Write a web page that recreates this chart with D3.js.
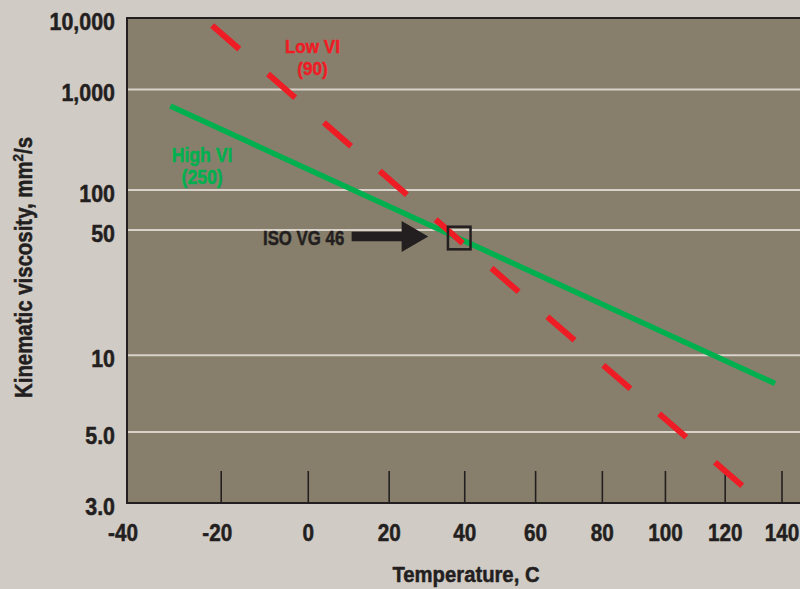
<!DOCTYPE html>
<html>
<head>
<meta charset="utf-8">
<script src="https://cdn.jsdelivr.net/npm/d3@7/dist/d3.min.js"></script>
<style>
  html, body { margin: 0; padding: 0; background: #d1cbc5; }
  svg { display: block; }
  text { font-family: "Liberation Sans", Arial, Helvetica, sans-serif; font-weight: bold; stroke-width: 0.5; stroke-linejoin: round; }
</style>
</head>
<body>
<svg id="chart" width="800" height="589"></svg>
<script>
// ---- Data ----
const yTickValues = [10000, 1000, 100, 50, 10, 5, 3];
const yTickLabels = ["10,000", "1,000", "100", "50", "10", "5.0", "3.0"];
const gridValues = [1000, 100, 50, 10, 5];
const xTickValues = [-40, -20, 0, 20, 40, 60, 80, 100, 120, 140];
const xTickLabels = ["-40", "-20", "0", "20", "40", "60", "80", "100", "120", "140"];

// High VI (250) line: temperature (C) and viscosity (mm2/s)
const highVITemps = [-31, 137.5];
const highVIVisc = [640, 7.6];
// Low VI (90) line
const lowVITemps = [-22, 127];
const lowVIVisc = [7600, 3.3];
// ISO VG 46 marker (as placed in the picture)
const isoTemp = [38.5];
const isoVisc = [44];

// ---- Layout ----
const W = 800, H = 589;
const plotLeft = 127, plotTop = 18, plotBottom = 503;
const ink = "#231f20";
const green = "#00b04f", red = "#ee1c25";

const svg = d3.select("#chart");

// squeeze text horizontally to mimic a condensed face
function condense(sel, f) {
  sel.each(function () {
    const L = this.getComputedTextLength();
    d3.select(this).attr("textLength", L * f).attr("lengthAdjust", "spacingAndGlyphs");
  });
}

// ASTM D341 viscosity-temperature chart scales
const astm = v => Math.log10(Math.log10(v + 0.7));
const yLin = d3.scaleLinear().domain([astm(3), astm(10000)]).range([plotBottom, plotTop]);
const y = v => yLin(astm(v));
const xLog = d3.scaleLog().domain([-40 + 273.15, 140 + 273.15]).range([plotLeft, 782]);
const x = t => xLog(t + 273.15);

// plot background
svg.append("rect")
  .attr("x", plotLeft).attr("y", plotTop)
  .attr("width", W + 20 - plotLeft).attr("height", plotBottom - plotTop)
  .attr("fill", "#877f6b");

// gridlines
svg.append("g").selectAll("line").data(gridValues).join("line")
  .attr("x1", plotLeft).attr("x2", W + 10)
  .attr("y1", d => y(d)).attr("y2", d => y(d))
  .attr("stroke", "#d9d2ca").attr("stroke-width", 2);

// x tick marks
svg.append("g").selectAll("line").data(xTickValues.slice(1)).join("line")
  .attr("x1", d => x(d)).attr("x2", d => x(d))
  .attr("y1", plotBottom - 32).attr("y2", plotBottom)
  .attr("stroke", ink).attr("stroke-width", 1.6);

// border (left, top, bottom)
svg.append("path")
  .attr("d", `M${W + 10},${plotTop}H${plotLeft}V${plotBottom}H${W + 10}`)
  .attr("fill", "none").attr("stroke", ink).attr("stroke-width", 2);

// y tick labels
svg.append("g").selectAll("text").data(yTickValues).join("text")
  .attr("x", 115).attr("y", d => y(d) + 12)
  .attr("text-anchor", "end")
  .attr("font-size", 23)
  .attr("fill", ink).attr("stroke", ink)
  .text((d, i) => yTickLabels[i])
  .call(condense, 0.93);

// x tick labels
svg.append("g").selectAll("text").data(xTickValues).join("text")
  .attr("x", d => x(d) + (d < 0 ? -4 : 0)).attr("y", 541)
  .attr("text-anchor", "middle")
  .attr("font-size", 23)
  .attr("fill", ink).attr("stroke", ink)
  .text((d, i) => xTickLabels[i])
  .call(condense, 0.9);

// axis titles
svg.append("text")
  .attr("x", 466).attr("y", 582)
  .attr("text-anchor", "middle")
  .attr("font-size", 22)
  .attr("textLength", 147).attr("lengthAdjust", "spacingAndGlyphs")
  .attr("fill", ink).attr("stroke", ink)
  .text("Temperature, C");

const yt = svg.append("text")
  .attr("transform", "translate(32,267.5) rotate(-90)")
  .attr("text-anchor", "middle")
  .attr("font-size", 23)
  .attr("textLength", 261).attr("lengthAdjust", "spacingAndGlyphs")
  .attr("fill", ink).attr("stroke", ink);
yt.append("tspan").text("Kinematic viscosity, mm");
yt.append("tspan").attr("font-size", 15).attr("dy", -9).text("2");
yt.append("tspan").attr("dy", 9).text("/s");

// lines
const line = d3.line().x(d => x(d[0])).y(d => y(d[1]));
svg.append("path")
  .datum(highVITemps.map((t, i) => [t, highVIVisc[i]]))
  .attr("d", line)
  .attr("fill", "none").attr("stroke", green).attr("stroke-width", 5.5);

svg.append("path")
  .datum(lowVITemps.map((t, i) => [t, lowVIVisc[i]]))
  .attr("d", line)
  .attr("fill", "none").attr("stroke", red).attr("stroke-width", 6)
  .attr("stroke-dasharray", "36,38");

// line labels
const lowLines = ["Low VI", "(90)"];
svg.append("g").selectAll("text").data(lowLines).join("text")
  .attr("x", x(1)).attr("y", (d, i) => y(3700) + 7 + i * 22)
  .attr("text-anchor", "middle").attr("fill", red).attr("stroke", red).attr("font-size", 19)
  .text(d => d)
  .call(condense, 0.9);

const highLines = ["High VI", "(250)"];
svg.append("g").selectAll("text").data(highLines).join("text")
  .attr("x", x(-24.2)).attr("y", (d, i) => y(203) + 7 + i * 22.5)
  .attr("text-anchor", "middle").attr("fill", green).attr("stroke", green).attr("font-size", 20)
  .text(d => d)
  .call(condense, 0.88);

// ISO VG 46 marker box + arrow + label
const bx = x(isoTemp[0]), by = y(isoVisc[0]);
svg.append("rect")
  .attr("x", bx - 11.3).attr("y", by - 11.3)
  .attr("width", 22.6).attr("height", 22.6)
  .attr("fill", "none").attr("stroke", ink).attr("stroke-width", 2.5);

const tx = bx - 31, ty = by - 1.5;
svg.append("path")
  .attr("d", `M${tx},${ty}L${tx - 26.6},${ty - 15.5}L${tx - 26.6},${ty - 4.7}L${tx - 76.6},${ty - 4.7}L${tx - 76.6},${ty + 4.7}L${tx - 26.6},${ty + 4.7}L${tx - 26.6},${ty + 15.5}Z`)
  .attr("fill", ink);

svg.append("text")
  .attr("x", tx - 84).attr("y", ty + 8.5)
  .attr("text-anchor", "end")
  .attr("font-size", 21)
  .attr("fill", ink).attr("stroke", ink)
  .text("ISO VG 46")
  .call(condense, 0.8);
</script>
</body>
</html>
